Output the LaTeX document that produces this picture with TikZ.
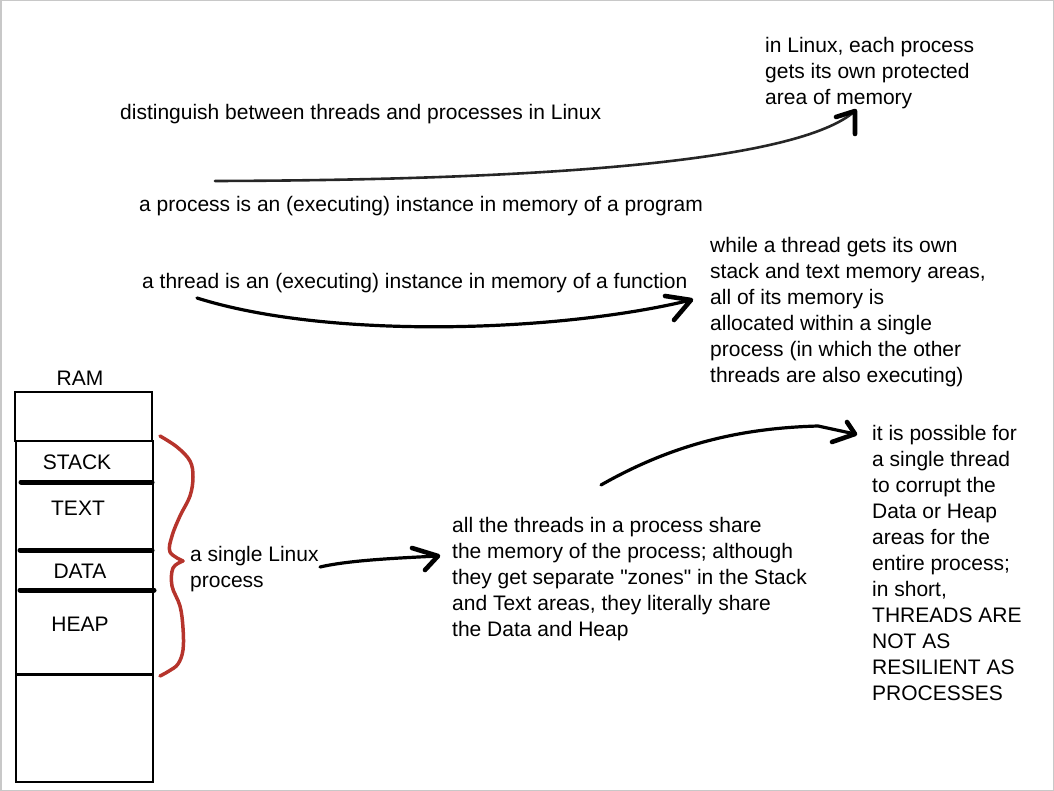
\documentclass[tikz,border=0pt]{standalone}
\usepackage{fontspec}
\setmainfont{Liberation Sans}[Ligatures=TeXOff]
\definecolor{braceRed}{RGB}{182,52,44}
\definecolor{frameGray}{RGB}{200,200,200}
\begin{document}
\begin{tikzpicture}[x=1pt,y=-1pt,
  txt/.style={inner sep=0pt, font=\fontsize{21}{26}\selectfont, align=left},
  pen/.style={line width=3.2pt, line cap=round, line join=round},
  tipmark/.style={line width=4.6pt, line cap=round, line join=round},
  wall/.style={line width=1.6pt},
  bar/.style={line width=5pt, line cap=round},
  brace/.style={draw=braceRed, line width=3.5pt, line cap=round, line join=round}]
\path[use as bounding box] (0,0) rectangle (1054,791);
\draw[frameGray, line width=1.5pt] (0.75,0.75) rectangle (1053.25,790.25);

% texts
\node[txt, anchor=north west] (own) at (765,37) {in Linux, each process\\gets its own protected\\area of memory};
\node[txt, anchor=base west] (title) at (120,120) {distinguish between threads and processes in Linux};
\node[txt, anchor=base west] (proc) at (139,212) {a process is an (executing) instance in memory of a program};
\node[txt, anchor=base west] (thr) at (142,289) {a thread is an (executing) instance in memory of a function};
\node[txt, anchor=north west] (while) at (710,237) {while a thread gets its own\\stack and text memory areas,\\all of its memory is\\allocated within a single\\process (in which the other\\threads are also executing)};
\node[txt, anchor=north west] (single) at (190,546) {a single Linux\\process};
\node[txt, anchor=north west] (share) at (452,517) {all the threads in a process share\\the memory of the process; although\\they get separate "zones" in the Stack\\and Text areas, they literally share\\the Data and Heap};
\node[txt, anchor=north west] (corrupt) at (872,425) {it is possible for\\a single thread\\to corrupt the\\Data or Heap\\areas for the\\entire process;\\in short,\\THREADS ARE\\NOT AS\\RESILIENT AS\\PROCESSES};

% RAM
\node[txt, anchor=base] (ram) at (80,385) {RAM};
\draw[wall] (15,392) rectangle (152,441);
\draw[wall] (16,441) rectangle (153,782);
\draw[bar] (21,482) -- (152,482);
\draw[bar] (20,550) -- (152,550);
\draw[bar] (20,590) -- (154,590);
\draw[line width=3pt] (16,674) -- (153,674);
\node[txt, anchor=base] (stack) at (77,469) {STACK};
\node[txt, anchor=base] (text) at (78,515) {TEXT};
\node[txt, anchor=base] (data) at (80,578) {DATA};
\node[txt, anchor=base] (heap) at (80,631) {HEAP};

% brace
\draw[brace] plot[smooth, tension=0.6] coordinates {(160,436) (177,447) (190,461) (193,477) (190,496) (180,516) (172,536) (170,552) (183,561)};
\draw[brace] plot[smooth, tension=0.6] coordinates {(183,561) (173,568) (172,586) (180,606) (183,628) (183,650) (178,664) (169,671) (160,676)};

% arrow coordinates
\coordinate (a1s) at (215,181); \coordinate (a1t) at (855,111);
\coordinate (a2s) at (197,298); \coordinate (a2t) at (691,300);
\coordinate (a3s) at (601,485); \coordinate (a3m) at (818,426); \coordinate (a3t) at (855,434);
\coordinate (a4s) at (320,567); \coordinate (a4t) at (438,556);

% arrow 1 (to "in Linux ...")
\draw[pen, line width=2.6pt, black!85] (a1s) .. controls (560,180) and (800,160) .. (a1t);
\draw[tipmark] (836,117) -- (a1t) -- (855,134);
% arrow 2 (to "while a thread ...")
\draw[pen] (a2s) .. controls (330,340) and (560,332) .. (a2t);
\draw[tipmark] (665,296) -- (a2t) -- (674,320);
% arrow 3 (to "it is possible ...")
\draw[pen] (a3s) .. controls (680,440) and (750,428) .. (a3m) -- (a3t);
\draw[tipmark] (847,422) -- (a3t) -- (832,442);
% arrow 4 (to "all the threads ...")
\draw[pen] (a4s) .. controls (350,560) and (400,558) .. (a4t);
\draw[tipmark] (412,548) -- (a4t) -- (425,570);
\end{tikzpicture}
\end{document}
